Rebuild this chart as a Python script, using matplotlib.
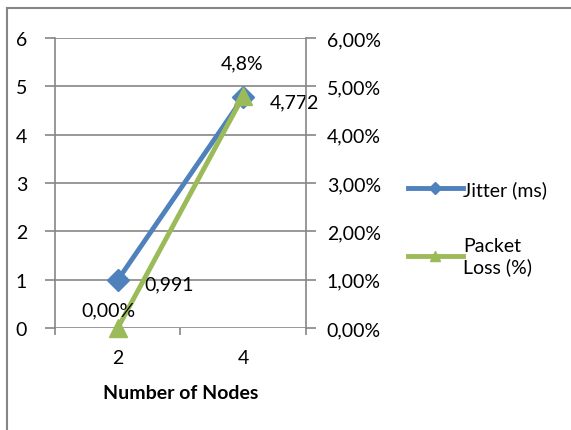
import matplotlib.pyplot as plt
from matplotlib.ticker import FuncFormatter
from matplotlib.lines import Line2D

plt.rcParams['font.family'] = ['Lato', 'DejaVu Sans']

nodes = ['2', '4']
jitter = [0.991, 4.772]
loss = [0.0, 4.8]
jitter_labels = ['0,991', '4,772']
loss_labels = ['0,00%', '4,8%']

blue = '#4F81BD'
green = '#9BBB59'
grid = '#868686'
fs = 14

fig = plt.figure(figsize=(5.71, 4.31), dpi=100)
# chart frame: only left and top edges fall inside the picture
fig.lines.append(Line2D([0.013, 0.013], [0.0, 0.979], transform=fig.transFigure,
                        color=grid, linewidth=1.5))
fig.lines.append(Line2D([0.013, 1.0], [0.979, 0.979], transform=fig.transFigure,
                        color=grid, linewidth=1.5))

ax = fig.add_axes([0.0963, 0.2367, 0.4396, 0.6728])
ax2 = ax.twinx()

x = [0, 1]
ax.set_xlim(-0.5, 1.5)
ax.set_ylim(0, 6)
ax2.set_ylim(0, 6)

ax.set_yticks(range(7))
ax2.set_yticks(range(7))
ax2.yaxis.set_major_formatter(FuncFormatter(lambda v, p: ('%.2f%%' % v).replace('.', ',')))
ax.set_xticks([-0.5, 0.5, 1.5])
ax.set_xticklabels([])
ax.set_xticks(x, minor=True)
ax.set_xticklabels(nodes, minor=True)

for a in (ax, ax2):
    for s in ('top', 'bottom', 'left', 'right'):
        a.spines[s].set_visible(False)
ax.spines['left'].set_visible(True)
ax.spines['left'].set_color(grid)
ax.spines['left'].set_linewidth(1.2)
ax2.spines['right'].set_visible(True)
ax2.spines['right'].set_color(grid)
ax2.spines['right'].set_linewidth(1.2)

ax.grid(axis='y', color=grid, linewidth=1.2)
ax.set_axisbelow(True)
ax.tick_params(axis='y', length=7, width=1.2, color=grid, labelsize=fs, pad=13)
ax2.tick_params(axis='y', length=7, width=1.2, color=grid, labelsize=fs, pad=8)
ax.tick_params(axis='x', which='minor', length=0, labelsize=fs, pad=15)
ax.tick_params(axis='x', which='major', length=5, color=grid, width=1.2,
               direction='out', bottom=True)

ax.set_xlabel('Number of Nodes', fontsize=fs, fontweight='bold', labelpad=13)

l1, = ax.plot(x, jitter, color=blue, linewidth=3.5, marker='D', markersize=11,
              label='Jitter (ms)', clip_on=False, zorder=3)
l2, = ax2.plot(x, loss, color=green, linewidth=3.5, marker='^', markersize=13,
               label='Packet\nLoss (%)', clip_on=False, zorder=3)

for xi, v, t in zip(x, jitter, jitter_labels):
    ax.annotate(t, (xi, v), xytext=(19, -3), textcoords='offset points',
                ha='left', va='center', fontsize=fs)
for xi, v, t, off in zip(x, loss, loss_labels, [(-7, 13), (-1, 24)]):
    ax2.annotate(t, (xi, v), xytext=off, textcoords='offset points',
                 ha='center', va='center', fontsize=fs)

fig.legend(handles=[l1, l2], loc='upper left', bbox_to_anchor=(0.684, 0.62),
           frameon=False, fontsize=fs, handlelength=2.8, handletextpad=0.05,
           labelspacing=2.0, markerscale=0.55)

fig.savefig('out.png', dpi=100)
